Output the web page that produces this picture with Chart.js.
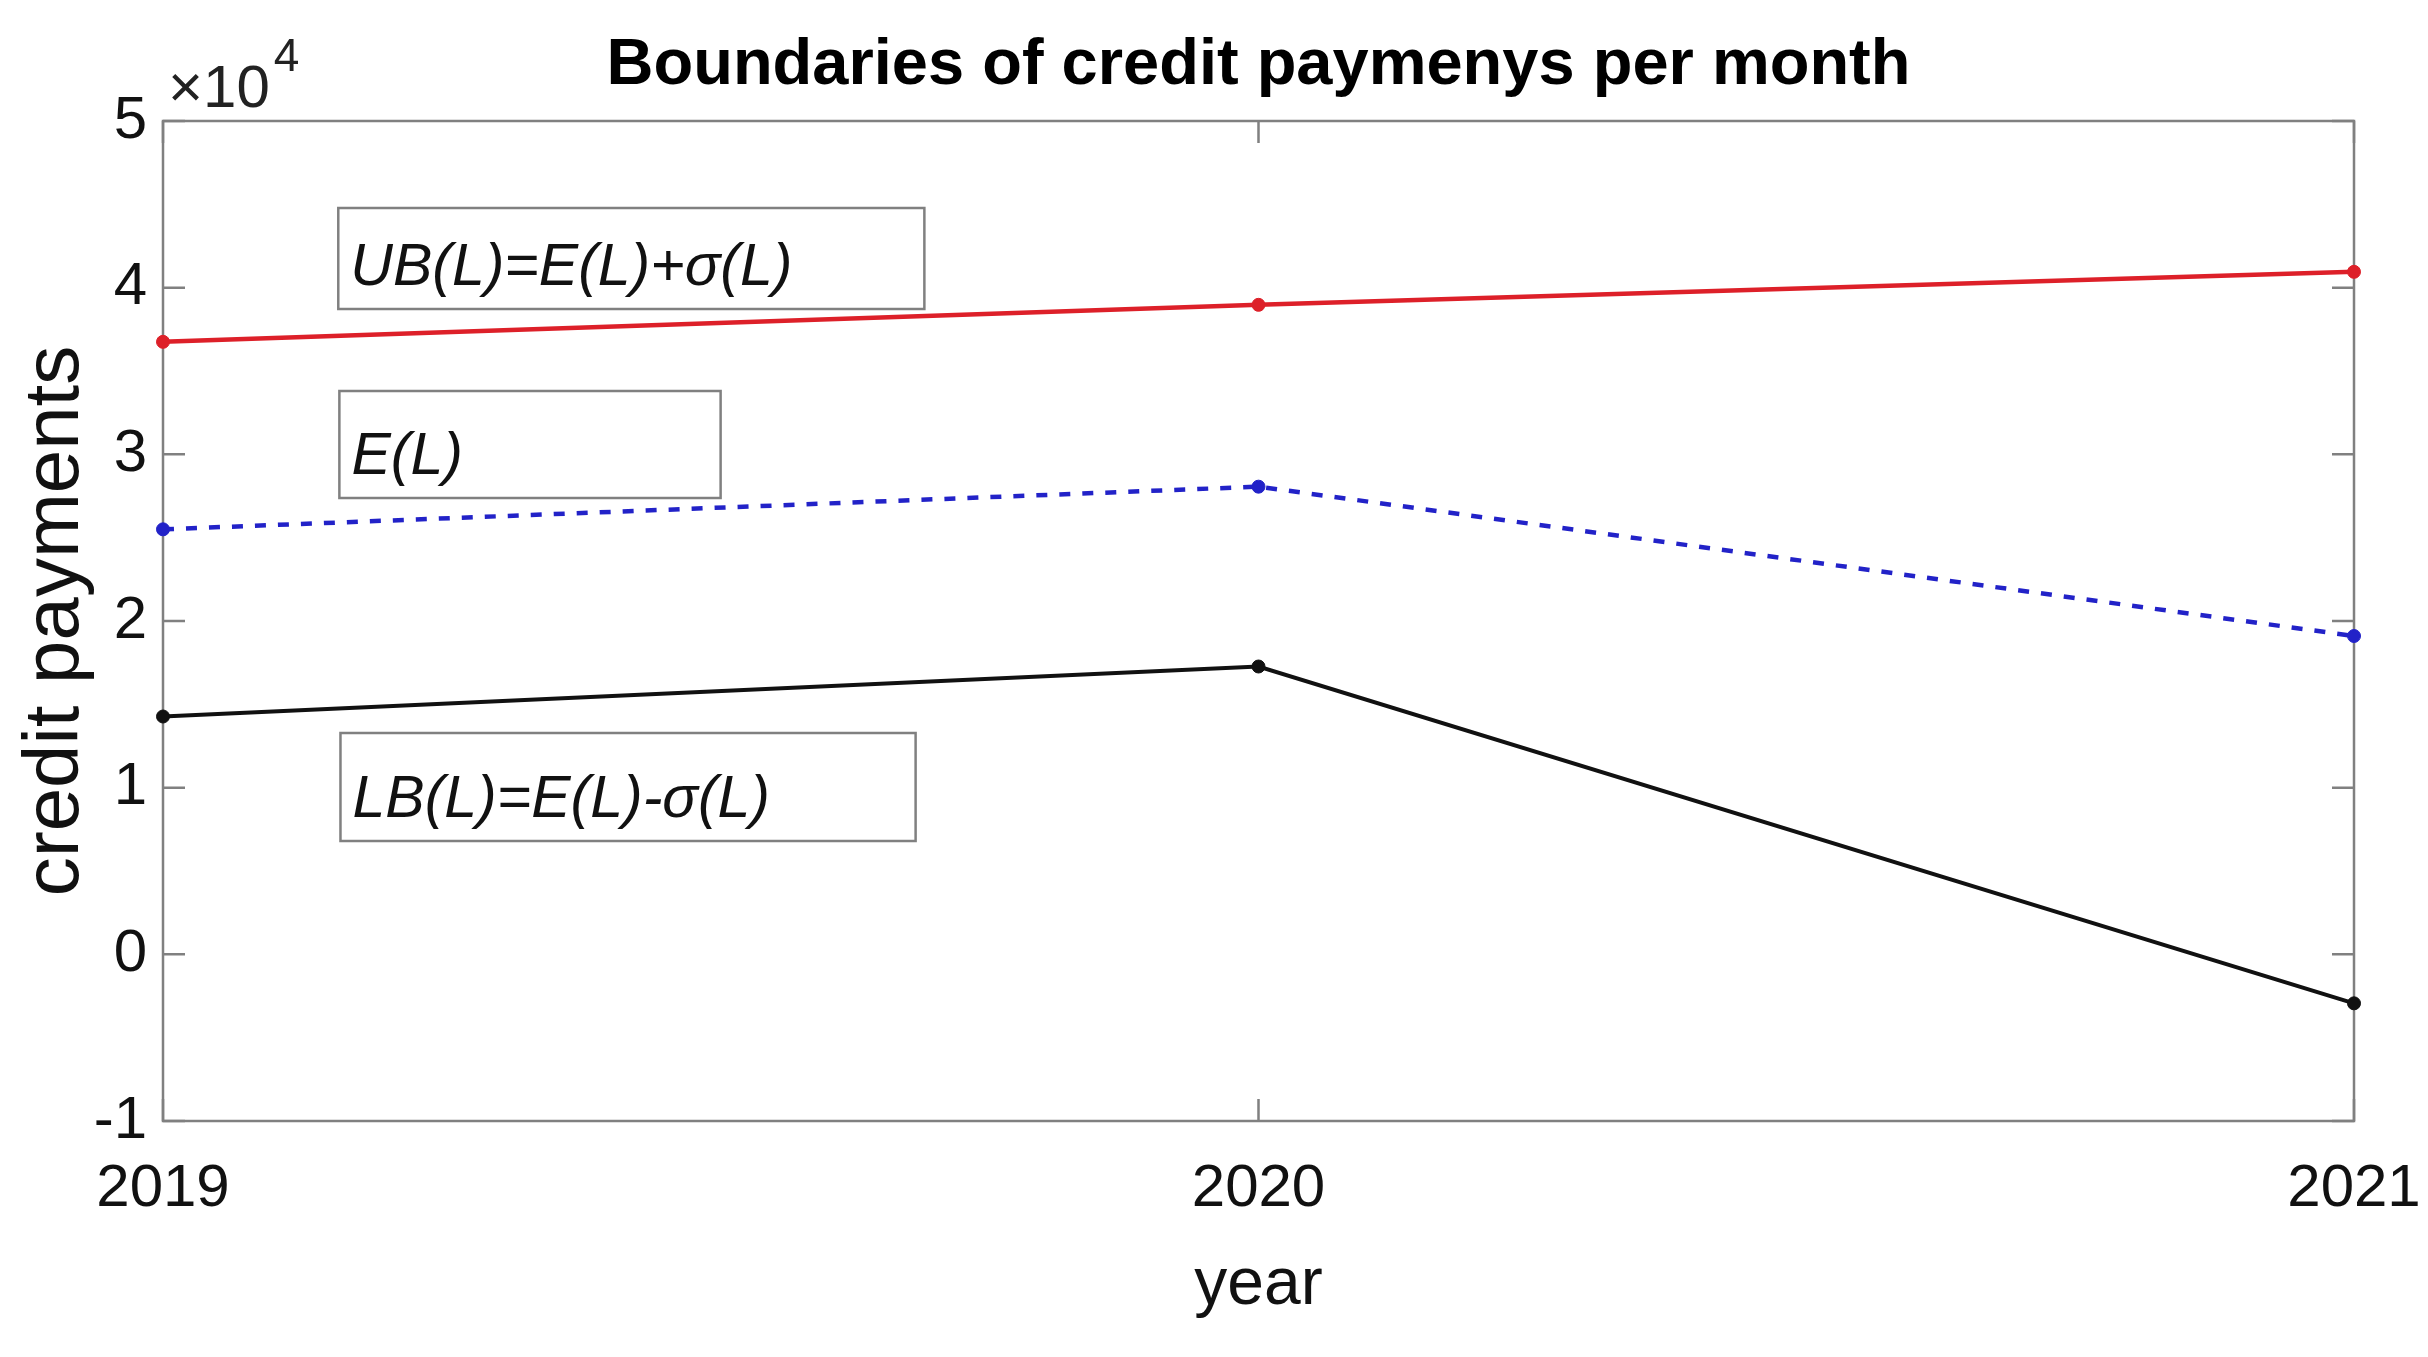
<!DOCTYPE html>
<html>
<head>
<meta charset="utf-8">
<script src="https://cdn.jsdelivr.net/npm/chart.js@4.4.1/dist/chart.umd.min.js"></script>
<style>
  html, body { margin: 0; padding: 0; background: #fff; }
  #wrap { width: 2428px; height: 1357px; }
</style>
</head>
<body>
<div id="wrap"><canvas id="c" width="2428" height="1357"></canvas></div>
<script>
// data
const years      = [2019, 2020, 2021];
const upperBound = [36750, 38970, 40950];
const expected   = [25500, 28060, 19100];
const lowerBound = [14270, 17270, -2940];
const yTicks     = [-10000, 0, 10000, 20000, 30000, 40000, 50000];
const noteLabels = ['UB(L)=E(L)+σ(L)', 'E(L)', 'LB(L)=E(L)-σ(L)'];

const SANS   = "'Liberation Sans', Arial, sans-serif";
const RED    = '#dd2029';
const BLUE   = '#2222c8';
const BLACK  = '#111111';
const AXIS   = '#808080';

// text boxes, placed in data units: [x0, x1, yTop, yBottom]
const noteBoxes = [
  [2019.160, 2019.695, 44780, 38720],
  [2019.161, 2019.509, 33800, 27380],
  [2019.162, 2019.687, 13280, 6800],
];

const toPts = (vals) => years.map((x, i) => ({ x, y: vals[i] }));

// box around the axes + inward ticks on all sides
const frame = {
  id: 'frame',
  beforeDatasetsDraw(chart) {
    const { ctx, chartArea: a, scales: { x, y } } = chart;
    ctx.save();
    ctx.strokeStyle = AXIS;
    ctx.lineWidth = 2.5;
    ctx.strokeRect(a.left, a.top, a.right - a.left, a.bottom - a.top);
    ctx.beginPath();
    y.ticks.forEach((t) => {
      const py = y.getPixelForValue(t.value);
      ctx.moveTo(a.left, py);  ctx.lineTo(a.left + 22, py);
      ctx.moveTo(a.right, py); ctx.lineTo(a.right - 22, py);
    });
    x.ticks.forEach((t) => {
      const px = x.getPixelForValue(t.value);
      ctx.moveTo(px, a.bottom); ctx.lineTo(px, a.bottom - 22);
      ctx.moveTo(px, a.top);    ctx.lineTo(px, a.top + 22);
    });
    ctx.stroke();
    ctx.restore();
  },
};

// MATLAB-style text boxes
const notes = {
  id: 'notes',
  afterDatasetsDraw(chart) {
    const { ctx, scales: { x, y } } = chart;
    ctx.save();
    ctx.font = `italic 59px ${SANS}`;
    ctx.textBaseline = 'alphabetic';
    ctx.textAlign = 'left';
    noteBoxes.forEach((b, i) => {
      const l = x.getPixelForValue(b[0]);
      const r = x.getPixelForValue(b[1]);
      const t = y.getPixelForValue(b[2]);
      const btm = y.getPixelForValue(b[3]);
      ctx.strokeStyle = AXIS;
      ctx.lineWidth = 2.5;
      ctx.strokeRect(l, t, r - l, btm - t);
      ctx.fillStyle = BLACK;
      ctx.fillText(noteLabels[i], l + 12, btm - 24);
    });
    ctx.restore();
  },
};

// exponent label above the y axis
const exponent = {
  id: 'exponent',
  afterDraw(chart) {
    const { ctx, chartArea: a } = chart;
    ctx.save();
    ctx.fillStyle = '#222';
    ctx.textAlign = 'left';
    ctx.textBaseline = 'alphabetic';
    ctx.font = `60px ${SANS}`;
    ctx.fillText('×10', a.left + 5, a.top - 14);
    const w = ctx.measureText('×10').width;
    ctx.font = `46px ${SANS}`;
    ctx.fillText('4', a.left + 9 + w, a.top - 50);
    ctx.restore();
  },
};

new Chart(document.getElementById('c'), {
  type: 'line',
  data: {
    datasets: [
      {
        data: toPts(upperBound),
        borderColor: RED, backgroundColor: RED,
        borderWidth: 4.5, pointRadius: 6.5, pointBorderWidth: 1,
        pointBorderColor: RED, tension: 0, clip: false,
      },
      {
        data: toPts(expected),
        borderColor: BLUE, backgroundColor: BLUE,
        borderWidth: 4.5, borderDash: [11, 12],
        pointRadius: 6.5, pointBorderWidth: 1, pointBorderColor: BLUE,
        tension: 0, clip: false,
      },
      {
        data: toPts(lowerBound),
        borderColor: BLACK, backgroundColor: BLACK,
        borderWidth: 4, pointRadius: 6.5, pointBorderWidth: 1,
        pointBorderColor: BLACK, tension: 0, clip: false,
      },
    ],
  },
  options: {
    responsive: false,
    animation: false,
    layout: { padding: { right: 74, left: 0, top: 0, bottom: 0 } },
    plugins: {
      legend: { display: false },
      tooltip: { enabled: false },
      title: {
        display: true,
        text: 'Boundaries of credit paymenys per month',
        fullSize: false,
        color: '#000',
        font: { family: SANS, size: 65, weight: 'bold', lineHeight: 1 },
        padding: { top: 34, bottom: 22 },
      },
    },
    scales: {
      x: {
        type: 'linear',
        min: 2019,
        max: 2021,
        afterBuildTicks: (s) => { s.ticks = years.map((v) => ({ value: v })); },
        afterFit: (s) => { s.height = 236; s.paddingLeft = 0; s.paddingRight = 0; },
        grid: { display: false, drawTicks: false },
        border: { display: false },
        ticks: {
          color: '#111',
          padding: 38,
          font: { family: SANS, size: 60, lineHeight: 1 },
          callback: (v) => String(v),
        },
        title: {
          display: true,
          text: 'year',
          color: '#111',
          font: { family: SANS, size: 66, lineHeight: 1 },
          padding: { top: 0, bottom: 38 },
        },
      },
      y: {
        min: -10000,
        max: 50000,
        afterBuildTicks: (s) => { s.ticks = yTicks.map((v) => ({ value: v })); },
        afterFit: (s) => { s.width = 163; s.paddingTop = 0; s.paddingBottom = 0; },
        grid: { display: false, drawTicks: false },
        border: { display: false },
        ticks: {
          color: '#111',
          padding: 16,
          font: { family: SANS, size: 60, lineHeight: 1 },
          callback: (v) => String(v / 10000),
        },
        title: {
          display: true,
          text: 'credit payments',
          color: '#111',
          font: { family: SANS, size: 78, lineHeight: 1 },
          padding: { top: 17, bottom: 0 },
        },
      },
    },
  },
  plugins: [frame, notes, exponent],
});
</script>
</body>
</html>
